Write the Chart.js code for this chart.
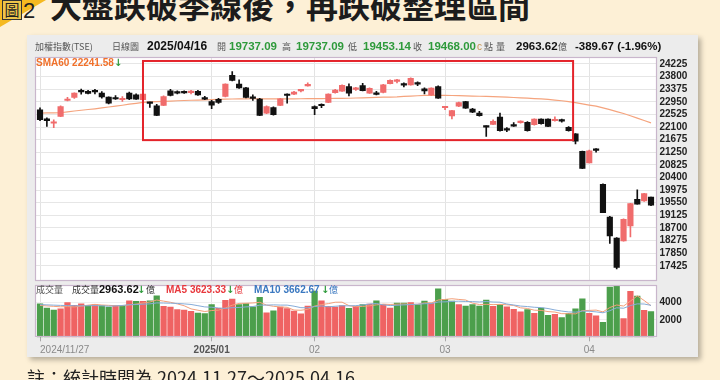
<!DOCTYPE html>
<html><head><meta charset="utf-8">
<script src="https://cdn.jsdelivr.net/npm/chart.js@4.4.1/dist/chart.umd.min.js"></script>
<style>
html,body{margin:0;padding:0;}
body{width:720px;height:380px;overflow:hidden;background:#fdf0d6;position:relative;font-family:"Liberation Sans",Arial,sans-serif;}
.a{position:absolute;white-space:nowrap;}
#card{left:27px;top:35px;width:671px;height:322px;background:#ececec;box-shadow:3px 3px 5px rgba(0,0,0,0.28);}
#tri{left:0;top:0;width:46px;height:27px;background:#f5b921;clip-path:polygon(0 0,100% 0,0 100%);}
#tubox{left:2px;top:0;width:18px;height:18px;border:1.5px solid #333;background:#eec54a;font:15px/18px "Noto Sans CJK TC";text-align:center;color:#222;}
#tnum{left:23px;top:0;font:22px/22px "Liberation Sans";color:#222;}
#title{left:50px;top:-12px;font:bold 32px/32px "Noto Sans CJK TC";color:#1c1c1c;}
.t{line-height:13px;height:13px;}
.cj{font-family:"Noto Sans CJK TC";font-size:9px;color:#555;}
.nb{font-family:"Liberation Sans";font-weight:bold;font-size:11.5px;color:#111;}
.ar{font-family:"DejaVu Sans";font-weight:bold;font-size:10px;color:#2e9a3b;}
.g{color:#2e9a3b;}
.r{color:#e8383d;}
.b{color:#3a78c0;}
#note{left:27px;top:368px;font:18px/18px "Noto Sans CJK TC";color:#222;}
canvas{position:absolute;left:0;}
</style></head>
<body>
<div id="card" class="a"></div>
<div id="tri" class="a"></div>
<div id="tubox" class="a">圖</div>
<div id="tnum" class="a">2</div>
<div id="title" class="a">大盤跌破季線後，再跌破整理區間</div>

<canvas id="cA" width="720" height="290" style="top:0;width:720px;height:290px;"></canvas>
<canvas id="cB" width="720" height="104" style="top:276px;width:720px;height:104px;"></canvas>

<div id="hdr"></div>
<div id="note" class="a">註：統計時間為 2024.11.27～2025.04.16</div>

<script>
// ---------- data ----------
const dates = [
'2024/11/27','2024/11/28','2024/11/29',
'2024/12/02','2024/12/03','2024/12/04','2024/12/05','2024/12/06',
'2024/12/09','2024/12/10','2024/12/11','2024/12/12','2024/12/13',
'2024/12/16','2024/12/17','2024/12/18','2024/12/19','2024/12/20',
'2024/12/23','2024/12/24','2024/12/25','2024/12/26','2024/12/27',
'2024/12/30','2024/12/31',
'2025/01/02','2025/01/03','2025/01/06','2025/01/07','2025/01/08','2025/01/09','2025/01/10',
'2025/01/13','2025/01/14','2025/01/15','2025/01/16','2025/01/17','2025/01/20','2025/01/21','2025/01/22',
'2025/02/03','2025/02/04','2025/02/05','2025/02/06','2025/02/07',
'2025/02/10','2025/02/11','2025/02/12','2025/02/13','2025/02/14',
'2025/02/17','2025/02/18','2025/02/19','2025/02/20','2025/02/21',
'2025/02/24','2025/02/25','2025/02/26','2025/02/27',
'2025/03/03','2025/03/04','2025/03/05','2025/03/06','2025/03/07',
'2025/03/10','2025/03/11','2025/03/12','2025/03/13','2025/03/14',
'2025/03/17','2025/03/18','2025/03/19','2025/03/20','2025/03/21',
'2025/03/24','2025/03/25','2025/03/26','2025/03/27','2025/03/28','2025/03/31',
'2025/04/01','2025/04/02','2025/04/07','2025/04/08','2025/04/09','2025/04/10','2025/04/11',
'2025/04/14','2025/04/15','2025/04/16'];

const openP = [22682,22380,22229,22457,22994,23095,23319,23303,23319,23242,
 23108,23068,23020,23242,23185,23018,22934,22816,22826,23319,
 23276,23286,23259,23303,23095,22961,23034,23135,23839,23544,
 23420,23101,23041,22571,22759,22826,23209,23209,23319,23487,
 22793,22840,22927,23259,23309,23464,23370,23497,23242,23236,
 23269,23564,23638,23537,23521,23571,23387,23185,23464,22749,
 22471,22799,22961,22705,22571,22136,22189,22437,22021,22162,
 22246,22256,22179,22370,22370,22313,22323,22089,21867,21284,
 20894,21340,20167,19070,18356,18265,18768,19664,19607,19737.09];
const highP = [22749,22414,22347,22816,23101,23252,23376,23336,23370,23296,
 23118,23162,23128,23276,23219,23219,22940,22866,23152,23370,
 23319,23319,23336,23336,23135,23001,23068,23554,23967,23688,
 23437,23185,23068,22816,22783,23068,23219,23303,23370,23588,
 22816,22883,23219,23370,23521,23554,23437,23571,23420,23303,
 23537,23688,23705,23588,23755,23621,23420,23420,23487,22783,
 22665,22940,22967,22732,22632,22140,22347,22571,22078,22246,
 22313,22280,22380,22380,22380,22447,22364,22112,21877,21291,
 21324,21374,20183,19093,18372,19010,19529,19983,19865,19737.09];
const lowP = [22313,22122,22078,22447,22984,23068,23209,23219,23219,23075,
 22883,23028,22961,23018,23034,23001,22759,22481,22816,23152,
 23219,23236,23219,23168,23018,22716,22900,23118,23655,23403,
 23085,22994,22481,22548,22498,22816,22907,23192,23286,23477,
 22515,22749,22917,23242,23296,23152,23336,23319,23229,23185,
 23252,23554,23588,23454,23511,23497,23219,23168,23061,22682,
 22370,22783,22729,22582,22464,21787,22179,21961,21944,22119,
 22229,21961,22162,22196,22112,22297,22263,21961,21532,20693,
 20888,21257,19211,18178,17316,18255,18399,19503,19596,19453.14];
const closeP = [22347,22313,22263,22793,23018,23242,23286,23236,23286,23118,
 22907,23045,23030,23051,23040,23209,22900,22491,23128,23162,
 23242,23252,23292,23185,23041,22833,22927,23544,23672,23420,
 23101,23068,22491,22793,22515,23051,23162,23276,23336,23511,
 22716,22816,23209,23343,23504,23242,23393,23329,23403,23202,
 23521,23672,23661,23511,23745,23544,23319,23410,23075,22773,
 22658,22927,22739,22598,22481,22095,22290,21978,21995,22129,
 22290,21978,22370,22213,22122,22347,22297,21978,21626,20703,
 21298,21315,19217,18433,17373,18993,19519,19505,19855,19468.00];
const sma60 = [22571,22574,22578,22582,22610,22640,22665,22690,22715,22745,
 22775,22805,22835,22870,22900,22930,22945,22955,22965,22975,
 22985,22995,23003,23010,23017,23025,23032,23038,23044,23050,
 23052,23053,23052,23050,23049,23050,23051,23052,23053,23055,
 23058,23060,23062,23063,23065,23070,23078,23086,23094,23100,
 23105,23110,23115,23130,23143,23155,23165,23168,23168,23166,
 23162,23157,23150,23144,23137,23130,23122,23115,23105,23095,
 23083,23072,23060,23047,23034,23010,22985,22955,22920,22880,
 22840,22805,22745,22685,22620,22555,22480,22400,22320,22241.58];

const volume = [3850,3366,3113,3278,3993,3663,3828,3663,3740,3630,
 3465,3630,3630,4180,4125,4125,4180,4763,3553,3476,
 3190,3113,2970,2783,2728,3751,3333,4235,4378,3740,
 3861,3498,4576,2816,3036,3476,3300,3003,2695,3586,
 5313,4180,3553,3476,3630,3333,3553,3740,3806,4180,
 3740,3366,3916,3916,3993,3740,4147,3916,5566,4356,
 4147,3740,3586,3740,3586,4268,3553,3740,3498,3201,
 2915,3190,2750,3366,2530,2640,2266,2750,3256,4400,
 2750,2453,1716,5753,5863,2156,5280,4730,3080,2963.62];
const volMA5 = [3650,3600,3550,3500,3520,3483,3575,3685,3777,3705,
 3665,3626,3619,3707,3806,3938,4048,4275,4149,4019,
 3832,3619,3260,3106,2957,3069,3113,3366,3685,3887,
 3909,3942,4011,3698,3557,3480,3441,3126,3102,3212,
 3579,3755,3865,4022,4030,3634,3509,3546,3612,3722,
 3804,3766,3802,3824,3786,3786,3942,3942,4272,4345,
 4426,4345,4279,3914,3760,3784,3747,3777,3729,3652,
 3381,3309,3111,3084,2950,2895,2710,2710,2688,3062,
 3084,3122,2915,3414,3707,3588,4154,4756,4222,3623.33];
const volMA10 = [3750,3720,3690,3660,3640,3620,3610,3620,3640,3612,
 3574,3600,3652,3742,3755,3802,3837,3947,3928,3913,
 3885,3834,3768,3628,3488,3451,3366,3313,3396,3422,
 3489,3528,3688,3692,3722,3695,3692,3568,3400,3385,
 3530,3598,3496,3562,3621,3607,3632,3706,3817,3876,
 3719,3638,3674,3718,3754,3795,3854,3872,4048,4066,
 4106,4144,4111,4093,4052,4105,4046,4028,3821,3706,
 3583,3528,3444,3407,3301,3138,3010,2911,2886,3006,
 2990,2916,2813,3051,3385,3336,3638,3836,3818,3662.67];

const priceTicks = [24225,23800,23375,22950,22525,22100,21675,21250,20825,20400,19975,19550,19125,18700,18275,17850,17425];
const priceRange = [16912, 24460];
const volTicks = [2000, 4000];
const volRange = [0, 6000];
const axisTickDates = ['2024/11/27','2025/01/02','2025/02/03','2025/03/03','2025/04/01'];
const axisTickLabels = ['2024/11/27','2025/01','02','03','04'];
const indexRange = [-0.73, 89.8];
const rangeBox = {from: 15, to: 77.65, low: 21659, high: 24326};
const priceChangeText = '-389.67 (-1.96%)';

// ---------- helpers ----------
const N = dates.length;
const idx = dates.map((d, i) => i);
const tickIdx = axisTickDates.map(d => dates.indexOf(d));
const UP = '#f06c6c', DOWN = '#111111';
const VUP = '#ef6363', VDOWN = '#4c9f4c';
const candleUp = i => closeP[i] >= openP[i];
const volUp = i => i === 0 ? closeP[0] >= openP[0] : closeP[i] >= closeP[i - 1];

Chart.defaults.font.family = '"Liberation Sans", Arial, sans-serif';
Chart.defaults.animation = false;

const panelPlugin = {
  id: 'panel',
  beforeDraw(chart) {
    const {ctx, chartArea: a} = chart;
    ctx.save(); ctx.fillStyle = '#ffffff';
    ctx.fillRect(a.left, a.top, a.right - a.left, a.bottom - a.top); ctx.restore();
  },
  afterDraw(chart) {
    const {ctx, chartArea: a} = chart;
    ctx.save(); ctx.strokeStyle = '#c9b6cc'; ctx.lineWidth = 1.2;
    ctx.strokeRect(Math.round(a.left) + 0.5, Math.round(a.top) + 0.5,
      Math.round(a.right - a.left) - 1, Math.round(a.bottom - a.top) - 1);
    ctx.restore();
  }
};
const boxPlugin = {
  id: 'rangeBox',
  afterDatasetsDraw(chart) {
    const {ctx} = chart, x = chart.scales.x, y = chart.scales.y;
    const l = x.getPixelForValue(rangeBox.from), r = x.getPixelForValue(rangeBox.to);
    const t = y.getPixelForValue(rangeBox.high), b = y.getPixelForValue(rangeBox.low);
    ctx.save(); ctx.strokeStyle = '#e4242b'; ctx.lineWidth = 2;
    ctx.strokeRect(l, t, r - l, b - t); ctx.restore();
  }
};

const xBase = (extraEnd) => ({
  type: 'linear', min: indexRange[0], max: indexRange[1], offset: false,
  afterBuildTicks: s => {
    const t = tickIdx.map(v => ({value: v}));
    if (extraEnd) t.push({value: indexRange[1]});
    s.ticks = t;
  }
});

// ---------- candle chart ----------
new Chart(document.getElementById('cA'), {
  type: 'bar',
  data: {
    datasets: [
      {type: 'line', data: idx.map(i => ({x: i, y: sma60[i]})), borderColor: '#f5a47e',
        borderWidth: 1.2, pointRadius: 0, tension: 0, order: 3},
      {data: idx.map(i => ({x: i, y: [lowP[i], highP[i]]})),
        backgroundColor: c => candleUp(c.dataIndex) ? UP : DOWN,
        barThickness: 1, minBarLength: 1, grouped: false, order: 2},
      {data: idx.map(i => ({x: i, y: [openP[i], closeP[i]]})),
        backgroundColor: c => candleUp(c.dataIndex) ? UP : DOWN,
        barThickness: 5.5, minBarLength: 1.5, grouped: false, order: 1}
    ]
  },
  options: {
    responsive: false, devicePixelRatio: 1,
    layout: {padding: {left: 35, top: 57, right: 13.5, bottom: 8}},
    plugins: {legend: {display: false}, tooltip: {enabled: false}},
    scales: {
      x: Object.assign(xBase(false), {
        ticks: {display: false, autoSkip: false},
        grid: {color: '#e3e3e3', drawTicks: false, offset: false},
        border: {display: false},
        afterFit: s => { s.height = 0; }
      }),
      y: {
        position: 'right', min: priceRange[0], max: priceRange[1],
        afterBuildTicks: s => { s.ticks = priceTicks.map(v => ({value: v})); },
        ticks: {color: '#222', font: {size: 10, weight: 'bold'}, padding: 3, autoSkip: false,
          callback: v => String(v)},
        grid: {color: '#e6e6e6', drawTicks: false},
        border: {display: false},
        afterFit: s => { s.width = 50; }
      }
    }
  },
  plugins: [panelPlugin, boxPlugin]
});

// ---------- volume chart ----------
new Chart(document.getElementById('cB'), {
  type: 'bar',
  data: {
    datasets: [
      {type: 'line', data: idx.map(i => ({x: i, y: volMA5[i]})), borderColor: '#f4a07a',
        borderWidth: 1, pointRadius: 0, tension: 0, order: 1},
      {type: 'line', data: idx.map(i => ({x: i, y: volMA10[i]})), borderColor: '#86acd8',
        borderWidth: 1, pointRadius: 0, tension: 0, order: 0},
      {data: idx.map(i => ({x: i, y: volume[i]})),
        backgroundColor: c => volUp(c.dataIndex) ? VUP : VDOWN,
        barThickness: 5.6, grouped: false, order: 2}
    ]
  },
  options: {
    responsive: false, devicePixelRatio: 1,
    layout: {padding: {left: 35, top: 7, right: 13.5, bottom: 22.7}},
    plugins: {legend: {display: false}, tooltip: {enabled: false}},
    scales: {
      x: Object.assign(xBase(true), {
        ticks: {
          autoSkip: false, maxRotation: 0, align: 'inner', padding: 2.5,
          callback: (v) => { const k = tickIdx.indexOf(v); return k >= 0 ? axisTickLabels[k] : ''; },
          font: c => ({size: 10, weight: c.index === 1 ? 'bold' : 'normal'}),
          color: c => c.index === 1 ? '#555' : '#8a8a8a'
        },
        grid: {
          offset: false, drawTicks: true, tickLength: 4,
          color: c => (c.tick && c.tick.value > N - 1) ? 'rgba(0,0,0,0)' : '#e3e3e3',
          tickColor: c => (c.tick && c.tick.value > N - 1) ? 'rgba(0,0,0,0)' : '#a8a8a8'
        },
        border: {display: false},
        afterFit: s => { s.height = 20; }
      }),
      y: {
        position: 'right', min: volRange[0], max: volRange[1],
        afterBuildTicks: s => { s.ticks = volTicks.map(v => ({value: v})); },
        ticks: {color: '#222', font: {size: 10, weight: 'bold'}, padding: 3, autoSkip: false,
          callback: v => String(v)},
        grid: {color: '#efefef', drawTicks: false},
        border: {display: false},
        afterFit: s => { s.width = 50; }
      }
    }
  },
  plugins: [panelPlugin]
});

// ---------- header texts ----------
const L = N - 1;
const f2 = v => v.toFixed(2);
const hdrItems = [
  [35, 40, 'cj', '加權指數(TSE)'],
  [112, 40, 'cj', '日線圖'],
  [147, 39.5, 'nb', dates[L], 'font-size:12px'],
  [217, 40, 'cj', '開'], [229, 40, 'nb g', f2(openP[L])],
  [282, 40, 'cj', '高'], [296, 40, 'nb g', f2(highP[L])],
  [348, 40, 'cj', '低'], [363, 40, 'nb g', f2(lowP[L])],
  [413, 40, 'cj', '收'], [428, 40, 'nb g', f2(closeP[L])],
  [477, 40, 'nb', 'c', 'color:#c8954f;font-weight:normal;font-size:10px'],
  [484, 40, 'cj', '點'], [496, 40, 'cj', '量'],
  [516, 40, 'nb', f2(volume[L])], [558, 40, 'cj', '億'],
  [575, 40, 'nb', priceChangeText],
  [36, 55.5, 'nb', 'SMA60 ' + f2(sma60[L]), 'color:#f0702a;font-size:10px'],
  [114, 55.5, 'ar', '↓'],
  [36, 282.5, 'cj', '成交量'],
  [72, 282.5, 'cj', '成交量', 'color:#333'],
  [99, 282.5, 'nb', f2(volume[L]), 'font-size:11px'], [137, 282.5, 'ar', '↓'], [146, 282.5, 'cj', '億', 'color:#333'],
  [166, 282.5, 'nb r', 'MA5 ' + f2(volMA5[L]), 'font-size:10px'], [226, 282.5, 'ar', '↓'], [234, 282.5, 'cj r', '億'],
  [254, 282.5, 'nb b', 'MA10 ' + f2(volMA10[L]), 'font-size:10px'], [321, 282.5, 'ar', '↓'], [329, 282.5, 'cj b', '億']
];
const hdr = document.getElementById('hdr');
hdrItems.forEach(([x, y, cls, txt, st]) => {
  const d = document.createElement('div');
  d.className = 'a t ' + cls;
  d.style.left = x + 'px'; d.style.top = y + 'px';
  if (st) d.style.cssText += ';' + st;
  d.textContent = txt;
  hdr.appendChild(d);
});
</script>
</body></html>
